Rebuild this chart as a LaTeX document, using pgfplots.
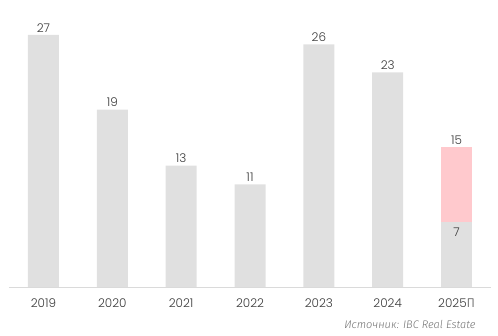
\documentclass[border=0pt]{standalone}
\usepackage{pgfplots}
\pgfplotsset{compat=1.18}
\usepackage{fontspec}
\setmainfont{Poppins Light}
\newfontfamily\cyrfont{Fira Sans Light}
\definecolor{barg}{HTML}{E0E0E0}
\definecolor{barp}{HTML}{FFC9CD}
\definecolor{txt}{HTML}{3A3A3A}
\definecolor{src}{HTML}{707070}
\definecolor{axl}{HTML}{DADADA}
\begin{document}
\begin{tikzpicture}
\useasboundingbox (0,0) rectangle (498pt,336pt);
\begin{axis}[
  at={(9pt,49pt)}, anchor=south west,
  scale only axis, width=482pt, height=280pt,
  xmin=-0.5, xmax=6.5, ymin=0, ymax=30,
  axis lines=none,
  ybar, bar width=31pt, bar shift=0pt,
  /pgf/number format/assume math mode=true,
  nodes near coords,
  every node near coord/.append style={font=\fontsize{12}{14}\selectfont, text=txt, inner sep=2.5pt},
  clip=false,
]
\addplot[fill=barp, draw=none] coordinates {(6,15)};
\addplot[fill=barg, draw=none] coordinates {(0,27) (1,19) (2,13) (3,11) (4,26) (5,23)};
\addplot[fill=barg, draw=none, every node near coord/.append style={anchor=north, yshift=-4pt}] coordinates {(6,7)};
\draw[axl, line width=0.8pt] (axis cs:-0.5,0) -- (axis cs:6.5,0);
\foreach \x/\l in {0/2019,1/2020,2/2021,3/2022,4/2023,5/2024} {
  \edef\tmp{\noexpand\node[font=\noexpand\fontsize{12}{14}\noexpand\selectfont, text=txt, anchor=center] at (axis cs:\x,0) [yshift=-15.7pt] {\l};}
  \tmp
}
\node[font=\fontsize{12}{14}\selectfont, text=txt, anchor=center] at (axis cs:6,0) [yshift=-15.7pt] {2025{\cyrfont\fontsize{12.5}{14}\selectfont П}};
\end{axis}
\node[anchor=base east, font=\cyrfont\itshape\fontsize{11}{13}\selectfont, text=src] at (479pt,7pt) {Источник: IBC Real Estate};
\end{tikzpicture}
\end{document}
